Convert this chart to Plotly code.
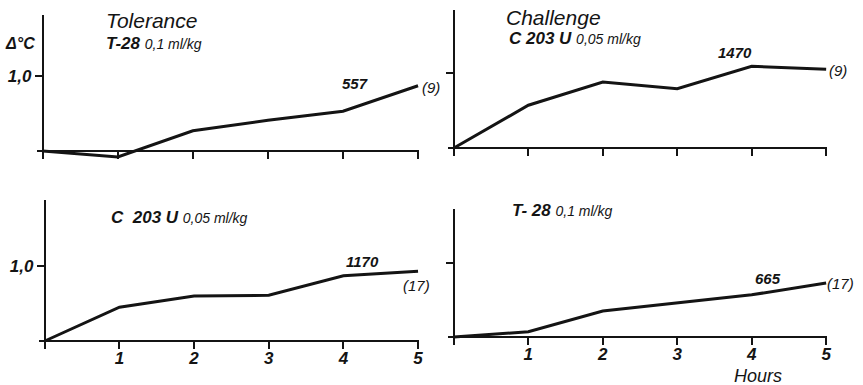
import plotly.graph_objects as go

W, H = 863, 385

# ---------------- data ----------------
HOURS = [0, 1, 2, 3, 4, 5]
TOL_T28 = [0.0, -0.08, 0.27, 0.41, 0.53, 0.87]      # Tolerance, T-28 0,1 ml/kg
CHAL_C203U = [0.0, 0.57, 0.88, 0.79, 1.09, 1.05]   # Challenge, C 203 U 0,05 ml/kg
TOL_C203U = [0.0, 0.45, 0.60, 0.61, 0.87, 0.93]    # C 203 U 0,05 ml/kg
CHAL_T28 = [0.0, 0.07, 0.35, 0.46, 0.57, 0.73]     # T-28 0,1 ml/kg

VALUE_LABELS = ["557", "1470", "1170", "665"]
N_LABELS = ["(9)", "(9)", "(17)", "(17)"]
X_TICKS = [1, 2, 3, 4, 5]
X_TICK_LABELS = ["1", "2", "3", "4", "5"]
Y_TICKS = [1.0]
Y_TICK_LABELS = ["1,0"]

SERIES = [TOL_T28, CHAL_C203U, TOL_C203U, CHAL_T28]

# ---------------- layout geometry (pixels) ----------------
PANELS = [
    dict(x0=43, x5=420, y0=151, y1=76, top=15, left_lab=True, bottom_lab=False),
    dict(x0=456, x5=830, y0=148, y1=73, top=10, left_lab=False, bottom_lab=False),
    dict(x0=45, x5=420, y0=341, y1=266, top=200, left_lab=True, bottom_lab=True),
    dict(x0=456, x5=830, y0=337, y1=263, top=209, left_lab=False, bottom_lab=True),
]

INK = "#141414"
FONT = "Liberation Sans"


def px(x):
    return x / W


def py(y):
    return 1 - y / H


fig = go.Figure()
layout = dict(
    width=W, height=H,
    margin=dict(l=0, r=0, t=0, b=0),
    paper_bgcolor="white", plot_bgcolor="white",
    showlegend=False,
)

for i, (p, vals) in enumerate(zip(PANELS, SERIES)):
    n = i + 1
    xa = "xaxis" if n == 1 else f"xaxis{n}"
    ya = "yaxis" if n == 1 else f"yaxis{n}"
    xr = "x" if n == 1 else f"x{n}"
    yr = "y" if n == 1 else f"y{n}"

    ppu_x = (p["x5"] - p["x0"]) / 5.0
    ppu_y = (p["y0"] - p["y1"])
    ext_left = 6
    bottom = p["y0"] + 8
    x_dom = [px(p["x0"] - ext_left), px(p["x5"] + 1)]
    x_rng = [-ext_left / ppu_x, 5 + 1 / ppu_x]
    y_dom = [py(bottom), py(p["top"])]
    y_rng = [-(bottom - p["y0"]) / ppu_y, (p["y0"] - p["top"]) / ppu_y]

    fig.add_trace(go.Scatter(
        x=HOURS, y=vals, mode="lines",
        line=dict(color=INK, width=3),
        xaxis=xr, yaxis=yr, hoverinfo="skip",
    ))

    layout[xa] = dict(
        domain=x_dom, range=x_rng, anchor="free", position=py(p["y0"]),
        showline=True, linecolor=INK, linewidth=2,
        ticks="outside", ticklen=7, tickwidth=2, tickcolor=INK,
        tickvals=X_TICKS, ticktext=X_TICK_LABELS,
        showticklabels=p["bottom_lab"], ticklabelstandoff=-5,
        tickfont=dict(family=FONT, size=17, color=INK, style="italic", weight="bold"),
        showgrid=False, zeroline=False, fixedrange=True,
    )
    layout[ya] = dict(
        domain=y_dom, range=y_rng, anchor="free", position=px(p["x0"]),
        showline=True, linecolor=INK, linewidth=2,
        ticks="outside", ticklen=7, tickwidth=2, tickcolor=INK,
        tickvals=Y_TICKS, ticktext=Y_TICK_LABELS,
        showticklabels=p["left_lab"],
        tickfont=dict(family=FONT, size=17, color=INK, style="italic", weight="bold"),
        showgrid=False, zeroline=False, fixedrange=True,
    )

fig.update_layout(**layout)


def ann(text, x, y, size=14, xanchor="center", weight="bold"):
    fig.add_annotation(
        text=text, x=px(x), y=py(y), xref="paper", yref="paper",
        xanchor=xanchor, yanchor="middle", showarrow=False,
        font=dict(family=FONT, size=size, color=INK, style="italic", weight=weight),
    )


small = "<span style='font-size:14px;font-weight:normal'>"

# panel titles
ann("Tolerance", 152, 20, size=21, weight="normal")
ann("T-28 " + small + "0,1 ml/kg</span>", 104, 43, size=17, xanchor="left")
ann("Challenge", 556, 17, size=21, weight="normal")
ann("C 203 U " + small + "0,05 ml/kg</span>", 509, 38, size=17, xanchor="left")
ann("C  203 U " + small + "0,05 ml/kg</span>", 110, 217, size=17, xanchor="left")
ann("T- 28 " + small + "0,1 ml/kg</span>", 512, 211, size=17, xanchor="left")

# y unit label
ann("Δ°C", 20, 43, size=16)

# value labels and n labels
VAL_POS = [(357, 84), (738, 53), (364, 261), (772, 278)]
N_POS = [(422, 88, "left"), (842, 70, "center"), (418, 285, "center"), (844, 283, "center")]
for lab, (x, y) in zip(VALUE_LABELS, VAL_POS):
    ann(lab, x, y, size=15)
for lab, (x, y, xa) in zip(N_LABELS, N_POS):
    ann(lab, x, y, size=15, xanchor=xa, weight="normal")

# x axis title
ann("Hours", 762, 376, size=18, weight="normal")

fig.write_html("out.html")
